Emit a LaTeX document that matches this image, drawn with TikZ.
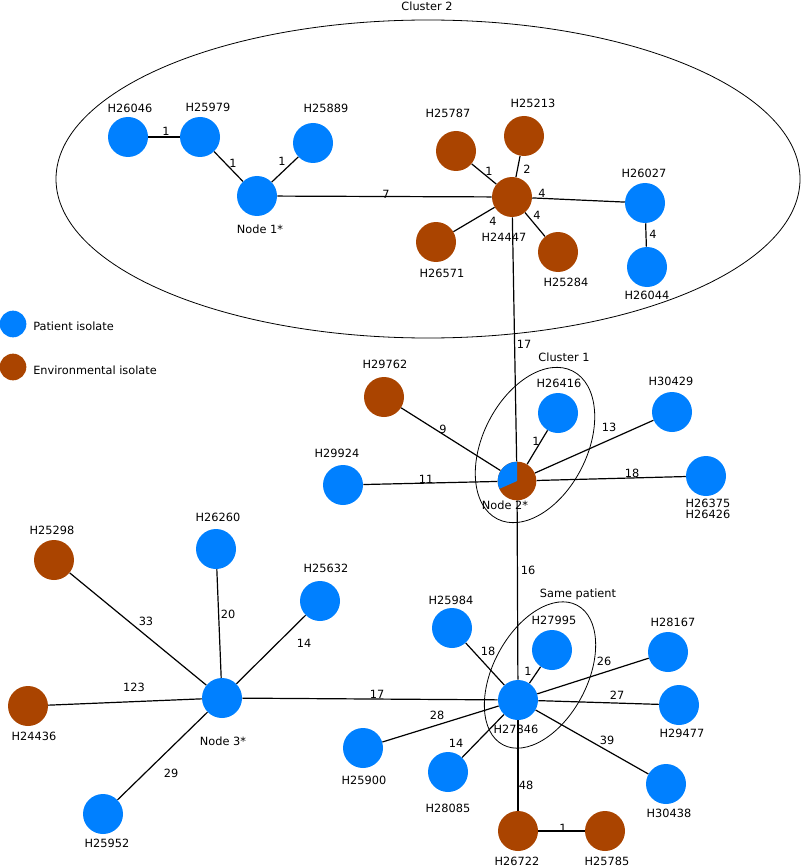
\documentclass[tikz,border=0pt]{standalone}
\usepackage{fontspec}
\setmainfont{DejaVu Sans}
\usetikzlibrary{backgrounds}
\definecolor{patc}{RGB}{0,128,255}
\definecolor{envc}{RGB}{170,68,0}
\tikzset{
  pat/.style={circle, fill=patc, minimum size=30pt, inner sep=0pt},
  env/.style={circle, fill=envc, minimum size=30pt, inner sep=0pt},
  txt/.style={font=\fontsize{8.5pt}{10pt}\selectfont, inner sep=0pt, text height=6.2pt, text depth=0pt},
  edge/.style={line width=0.9pt, black},
  clus/.style={line width=0.6pt, black}
}
\begin{document}
\begin{tikzpicture}[x=0.75pt,y=-0.75pt]
\useasboundingbox (0,0) rectangle (800,866);
% ---------- Cluster 2 ----------
\node[txt] (c2) at (427,6) {Cluster 2};
\node[pat] (n26046) at (128,137) {};
\node[pat] (n25979) at (200,137) {};
\node[pat] (n25889) at (313,143) {};
\node[pat] (node1) at (257,196) {};
\node[env] (n24447) at (512,197) {};
\node[env] (n25787) at (456,151) {};
\node[env] (n25213) at (524,136) {};
\node[env] (n26571) at (436,242) {};
\node[env] (n25284) at (558,252) {};
\node[pat] (n26027) at (645,203) {};
\node[pat] (n26044) at (647,267) {};
\node[txt] (l26046) at (130,108) {H26046};
\node[txt] (l25979) at (208,107) {H25979};
\node[txt] (l25889) at (326,108) {H25889};
\node[txt] (lnode1) at (260,229) {Node 1*};
\node[txt] (l24447) at (504,237) {H24447};
\node[txt] (l25787) at (448,113) {H25787};
\node[txt] (l25213) at (533,103) {H25213};
\node[txt] (l26571) at (442,273) {H26571};
\node[txt] (l25284) at (566,282) {H25284};
\node[txt] (l26027) at (644,173) {H26027};
\node[txt] (l26044) at (647,295) {H26044};
% ---------- Cluster 1 ----------
\node[txt] (c1) at (564,357) {Cluster 1};
\node[circle, minimum size=29pt, inner sep=0pt] (node2) at (517,481) {};
\fill[envc] (node2.center) circle[radius=14.5pt];
\fill[patc] (node2.center) -- +(90:14.5pt) arc[start angle=90, end angle=204, radius=14.5pt] -- cycle;
\node[pat] (n26416) at (558,413) {};
\node[env] (n29762) at (384,397) {};
\node[pat] (n30429) at (672,412) {};
\node[pat] (n29924) at (343,485) {};
\node[pat] (n26375) at (706,476) {};
\node[txt] (lnode2) at (505,505) {Node 2*};
\node[txt] (l26416) at (559,383) {H26416};
\node[txt] (l29762) at (385,364) {H29762};
\node[txt] (l30429) at (671,381) {H30429};
\node[txt] (l29924) at (337,453) {H29924};
\node[txt] (l26375) at (708,503) {H26375};
\node[txt] (l26426) at (708,514) {H26426};
% ---------- Same patient ----------
\node[txt] (csp) at (578,593) {Same patient};
\node[pat] (n27846) at (518,700) {};
\node[pat] (n27995) at (552,650) {};
\node[pat] (n25984) at (452,628) {};
\node[pat] (n28167) at (668,652) {};
\node[pat] (n29477) at (679,705) {};
\node[pat] (n28085) at (448,772) {};
\node[pat] (n30438) at (666,784) {};
\node[env] (n26722) at (518,831) {};
\node[env] (n25785) at (605,831) {};
\node[pat] (n25900) at (363,748) {};
\node[txt] (l27846) at (516,729) {H27846};
\node[txt] (l27995) at (554,620) {H27995};
\node[txt] (l25984) at (451,600) {H25984};
\node[txt] (l28167) at (673,622) {H28167};
\node[txt] (l29477) at (682,733) {H29477};
\node[txt] (l28085) at (448,808) {H28085};
\node[txt] (l30438) at (669,813) {H30438};
\node[txt] (l26722) at (517,861) {H26722};
\node[txt] (l25785) at (607,861) {H25785};
\node[txt] (l25900) at (364,780) {H25900};
% ---------- Node 3 ----------
\node[pat] (node3) at (222,698) {};
\node[env] (n25298) at (54,560) {};
\node[pat] (n26260) at (216,549) {};
\node[pat] (n25632) at (320,601) {};
\node[env] (n24436) at (28,706) {};
\node[pat] (n25952) at (103,814) {};
\node[txt] (lnode3) at (223,741) {Node 3*};
\node[txt] (l25298) at (52,530) {H25298};
\node[txt] (l26260) at (218,517) {H26260};
\node[txt] (l25632) at (326,568) {H25632};
\node[txt] (l24436) at (34,736) {H24436};
\node[txt] (l25952) at (107,843) {H25952};
% ---------- Legend ----------
\node[pat, minimum size=20pt] (legp) at (13,324) {};
\node[env, minimum size=20pt] (lege) at (13,367) {};
\node[txt, anchor=west] (legpt) at (33,326) {Patient isolate};
\node[txt, anchor=west] (leget) at (33,370) {Environmental isolate};
% ---------- Edge labels ----------
\node[txt] (e01) at (166,131) {1};
\node[txt] (e02) at (233,163) {1};
\node[txt] (e03) at (282,161) {1};
\node[txt] (e04) at (386,194) {7};
\node[txt] (e05) at (489,171) {1};
\node[txt] (e06) at (527,169) {2};
\node[txt] (e07) at (542,193) {4};
\node[txt] (e08) at (493,221) {4};
\node[txt] (e09) at (537,215) {4};
\node[txt] (e10) at (653,234) {4};
\node[txt] (e11) at (524,344) {17};
\node[txt] (e12) at (443,429) {9};
\node[txt] (e13) at (536,441) {1};
\node[txt] (e14) at (609,427) {13};
\node[txt] (e15) at (426,479) {11};
\node[txt] (e16) at (632,473) {18};
\node[txt] (e17) at (528,570) {16};
\node[txt] (e18) at (488,651) {18};
\node[txt] (e19) at (528,671) {1};
\node[txt] (e20) at (604,661) {26};
\node[txt] (e21) at (617,695) {27};
\node[txt] (e22) at (437,715) {28};
\node[txt] (e23) at (456,743) {14};
\node[txt] (e24) at (607,740) {39};
\node[txt] (e25) at (526,785) {48};
\node[txt] (e26) at (563,828) {1};
\node[txt] (e27) at (146,621) {33};
\node[txt] (e28) at (228,614) {20};
\node[txt] (e29) at (304,643) {14};
\node[txt] (e30) at (134,687) {123};
\node[txt] (e31) at (377,694) {17};
\node[txt] (e32) at (171,773) {29};
% ---------- Cluster outlines ----------
\draw[clus] (428,179) ellipse [x radius=279pt, y radius=119.25pt];
\draw[clus, rotate around={63:(535,445)}] (535,445) ellipse [x radius=62.25pt, y radius=39pt];
\draw[clus, rotate around={62:(540,675)}] (540,675) ellipse [x radius=59.25pt, y radius=35.25pt];
% ---------- Edges ----------
\begin{pgfonlayer}{background}
\draw[edge] (n26046) -- (n25979);
\draw[edge] (n25979) -- (node1);
\draw[edge] (n25889) -- (node1);
\draw[edge] (node1) -- (n24447);
\draw[edge] (n25787) -- (n24447);
\draw[edge] (n25213) -- (n24447);
\draw[edge] (n26571) -- (n24447);
\draw[edge] (n25284) -- (n24447);
\draw[edge] (n24447) -- (n26027);
\draw[edge] (n26027) -- (n26044);
\draw[edge] (n24447) -- (node2);
\draw[edge] (n29762) -- (node2);
\draw[edge] (n26416) -- (node2);
\draw[edge] (n30429) -- (node2);
\draw[edge] (n29924) -- (node2);
\draw[edge] (n26375) -- (node2);
\draw[edge] (node2) -- (n27846);
\draw[edge] (n25984) -- (n27846);
\draw[edge] (n27995) -- (n27846);
\draw[edge] (n28167) -- (n27846);
\draw[edge] (n29477) -- (n27846);
\draw[edge] (n25900) -- (n27846);
\draw[edge] (n28085) -- (n27846);
\draw[edge] (n30438) -- (n27846);
\draw[edge] (n26722) -- (n27846);
\draw[edge] (n26722) -- (n25785);
\draw[edge] (node3) -- (n27846);
\draw[edge] (n25298) -- (node3);
\draw[edge] (n26260) -- (node3);
\draw[edge] (n25632) -- (node3);
\draw[edge] (n24436) -- (node3);
\draw[edge] (n25952) -- (node3);
\end{pgfonlayer}
\end{tikzpicture}
\end{document}
